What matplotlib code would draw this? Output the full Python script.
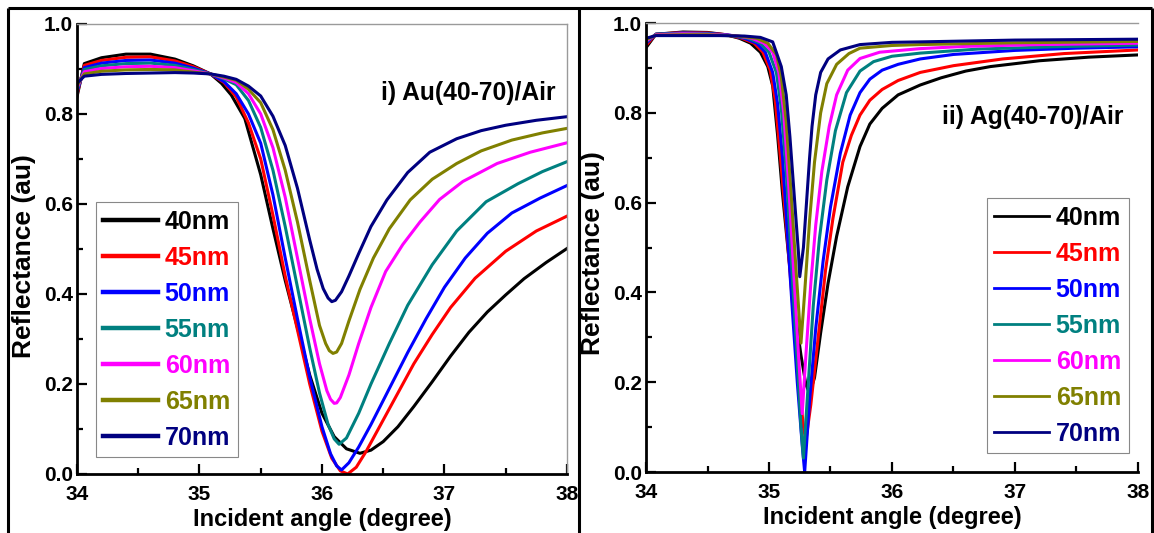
import matplotlib
matplotlib.use("Agg")
import matplotlib.pyplot as plt
from matplotlib.lines import Line2D
from matplotlib.ticker import MultipleLocator

plt.rcParams['font.family'] = ['Liberation Sans', 'DejaVu Sans']
plt.rcParams['font.weight'] = 'bold'

thickness = ['40nm', '45nm', '50nm', '55nm', '60nm', '65nm', '70nm']
line_colors = ['black', 'red', 'blue', '#008080', 'magenta', '#808000', '#000080']

# ---- Au film, reflectance vs incident angle ----
au_x_40 = [34.0, 34.06, 34.2, 34.4, 34.6, 34.8, 34.95, 35.09, 35.18, 35.26, 35.37, 35.5, 35.6, 35.7,
           35.8, 35.9, 36.0, 36.1, 36.2, 36.31, 36.4, 36.5, 36.62, 36.75, 36.9, 37.05, 37.2, 37.35,
           37.5, 37.65, 37.83, 38.0]
au_r_40 = [0.838, 0.912, 0.925, 0.933, 0.933, 0.922, 0.907, 0.889, 0.868, 0.842, 0.790, 0.665, 0.545, 0.430,
           0.325, 0.220, 0.135, 0.083, 0.056, 0.046, 0.053, 0.072, 0.105, 0.150, 0.205, 0.262, 0.315, 0.360,
           0.398, 0.434, 0.470, 0.501]

au_x_45 = [34.0, 34.06, 34.2, 34.4, 34.6, 34.8, 34.95, 35.09, 35.2, 35.3, 35.4, 35.5, 35.6, 35.7, 35.8,
           35.9, 36.0, 36.08, 36.15, 36.21, 36.28, 36.36, 36.45, 36.6, 36.75, 36.9, 37.05, 37.25, 37.5,
           37.75, 38.0]
au_r_45 = [0.843, 0.908, 0.919, 0.926, 0.927, 0.918, 0.905, 0.889, 0.870, 0.838, 0.780, 0.700, 0.575, 0.440,
           0.320, 0.200, 0.095, 0.035, 0.007, 0.0, 0.015, 0.050, 0.095, 0.170, 0.245, 0.310, 0.370, 0.435,
           0.495, 0.540, 0.573]

au_x_50 = [34.0, 34.06, 34.2, 34.4, 34.6, 34.8, 34.95, 35.09, 35.2, 35.3, 35.4, 35.5, 35.6, 35.7, 35.8,
           35.9, 36.0, 36.07, 36.12, 36.16, 36.22, 36.3, 36.4, 36.55, 36.7, 36.85, 37.0, 37.17, 37.35,
           37.55, 37.78, 38.0]
au_r_50 = [0.848, 0.903, 0.913, 0.919, 0.920, 0.913, 0.902, 0.889, 0.872, 0.845, 0.800, 0.735, 0.620, 0.480,
           0.345, 0.215, 0.105, 0.045, 0.018, 0.009, 0.025, 0.060, 0.110, 0.190, 0.270, 0.345, 0.415, 0.480,
           0.535, 0.580, 0.613, 0.641]

au_x_55 = [34.0, 34.06, 34.2, 34.4, 34.6, 34.8, 34.95, 35.09, 35.2, 35.3, 35.4, 35.5, 35.6, 35.7, 35.8,
           35.9, 35.98, 36.05, 36.1, 36.14, 36.2, 36.3, 36.4, 36.55, 36.7, 36.9, 37.1, 37.34, 37.6, 37.8, 38.0]
au_r_55 = [0.853, 0.899, 0.907, 0.912, 0.913, 0.908, 0.899, 0.889, 0.878, 0.865, 0.830, 0.770, 0.675, 0.550,
           0.415, 0.280, 0.180, 0.110, 0.078, 0.066, 0.080, 0.135, 0.200, 0.290, 0.375, 0.465, 0.540, 0.605,
           0.645, 0.672, 0.694]

au_x_60 = [34.0, 34.06, 34.2, 34.4, 34.6, 34.8, 34.95, 35.09, 35.2, 35.3, 35.4, 35.5, 35.6, 35.7, 35.8,
           35.9, 35.98, 36.04, 36.07, 36.1, 36.12, 36.15, 36.22, 36.3, 36.4, 36.52, 36.66, 36.8, 36.96,
           37.15, 37.43, 37.7, 38.0]
au_r_60 = [0.858, 0.894, 0.901, 0.905, 0.906, 0.903, 0.896, 0.889, 0.880, 0.870, 0.845, 0.800, 0.725, 0.615,
           0.480, 0.345, 0.245, 0.185, 0.166, 0.157, 0.158, 0.170, 0.220, 0.290, 0.370, 0.450, 0.510, 0.560,
           0.610, 0.650, 0.690, 0.715, 0.736]

au_x_65 = [34.0, 34.06, 34.2, 34.4, 34.6, 34.8, 34.95, 35.09, 35.2, 35.3, 35.4, 35.5, 35.6, 35.7, 35.8,
           35.9, 35.98, 36.03, 36.06, 36.09, 36.12, 36.16, 36.22, 36.31, 36.42, 36.55, 36.72, 36.9, 37.1,
           37.3, 37.55, 37.8, 38.0]
au_r_65 = [0.863, 0.889, 0.895, 0.898, 0.899, 0.898, 0.893, 0.889, 0.882, 0.875, 0.855, 0.825, 0.765, 0.675,
           0.560, 0.430, 0.330, 0.290, 0.274, 0.268, 0.271, 0.290, 0.340, 0.410, 0.480, 0.545, 0.609, 0.655,
           0.690, 0.718, 0.742, 0.758, 0.768]

au_x_70 = [34.0, 34.06, 34.2, 34.4, 34.6, 34.8, 34.95, 35.09, 35.2, 35.3, 35.4, 35.5, 35.6, 35.7, 35.8,
           35.9, 35.96, 36.01, 36.05, 36.08, 36.11, 36.16, 36.22, 36.3, 36.4, 36.53, 36.7, 36.88, 37.1,
           37.3, 37.5, 37.75, 38.0]
au_r_70 = [0.868, 0.884, 0.888, 0.890, 0.891, 0.892, 0.891, 0.889, 0.884, 0.877, 0.862, 0.840, 0.795, 0.730,
           0.635, 0.520, 0.455, 0.412, 0.391, 0.383, 0.386, 0.405, 0.440, 0.490, 0.550, 0.609, 0.670, 0.715,
           0.745, 0.763, 0.775, 0.786, 0.794]

# ---- Ag film ----
ag_x_40 = [34.0, 34.08, 34.3, 34.5, 34.65, 34.76, 34.85, 34.93, 34.99, 35.03, 35.07, 35.11, 35.16, 35.21,
           35.26, 35.3, 35.33, 35.37, 35.42, 35.48, 35.55, 35.64, 35.74, 35.82, 35.92, 36.05, 36.23, 36.4,
           36.6, 36.8, 37.2, 37.6, 38.0]
ag_r_40 = [0.945, 0.975, 0.980, 0.979, 0.974, 0.966, 0.955, 0.935, 0.903, 0.860, 0.750, 0.620, 0.480, 0.360,
           0.260, 0.195, 0.175, 0.210, 0.310, 0.420, 0.525, 0.635, 0.725, 0.775, 0.810, 0.840, 0.862, 0.878,
           0.893, 0.903, 0.916, 0.924, 0.929]

ag_x_45 = [34.0, 34.08, 34.3, 34.5, 34.65, 34.78, 34.88, 34.95, 35.01, 35.05, 35.09, 35.14, 35.19, 35.24,
           35.28, 35.3, 35.34, 35.4, 35.46, 35.52, 35.6, 35.67, 35.74, 35.82, 35.92, 36.05, 36.23, 36.5,
           36.9, 37.4, 38.0]
ag_r_45 = [0.950, 0.975, 0.979, 0.978, 0.974, 0.966, 0.955, 0.935, 0.895, 0.830, 0.710, 0.550, 0.380, 0.210,
           0.100, 0.070, 0.150, 0.300, 0.450, 0.565, 0.690, 0.750, 0.795, 0.828, 0.852, 0.872, 0.890, 0.905,
           0.920, 0.932, 0.940]

ag_x_50 = [34.0, 34.08, 34.3, 34.5, 34.68, 34.8, 34.9, 34.97, 35.03, 35.07, 35.11, 35.15, 35.19, 35.23,
           35.27, 35.29, 35.33, 35.38, 35.44, 35.5, 35.58, 35.66, 35.74, 35.82, 35.92, 36.05, 36.23, 36.5,
           37.0, 37.5, 38.0]
ag_r_50 = [0.955, 0.975, 0.978, 0.977, 0.973, 0.966, 0.955, 0.935, 0.890, 0.820, 0.700, 0.530, 0.360, 0.200,
           0.060, 0.0, 0.160, 0.320, 0.470, 0.590, 0.710, 0.795, 0.845, 0.875, 0.895, 0.908, 0.920, 0.930,
           0.939, 0.944, 0.947]

ag_x_55 = [34.0, 34.08, 34.3, 34.5, 34.7, 34.83, 34.93, 35.0, 35.06, 35.1, 35.14, 35.18, 35.22, 35.26,
           35.28, 35.32, 35.36, 35.41, 35.47, 35.54, 35.63, 35.74, 35.85, 36.0, 36.23, 36.7, 37.3, 38.0]
ag_r_55 = [0.958, 0.975, 0.977, 0.976, 0.972, 0.966, 0.955, 0.935, 0.890, 0.810, 0.670, 0.480, 0.290, 0.100,
           0.031, 0.200, 0.370, 0.520, 0.650, 0.760, 0.845, 0.893, 0.914, 0.926, 0.933, 0.942, 0.947, 0.951]

ag_x_60 = [34.0, 34.08, 34.3, 34.5, 34.72, 34.86, 34.96, 35.03, 35.08, 35.12, 35.16, 35.2, 35.24, 35.27,
           35.3, 35.34, 35.38, 35.43, 35.49, 35.55, 35.64, 35.74, 35.9, 36.23, 36.6, 37.2, 38.0]
ag_r_60 = [0.960, 0.974, 0.976, 0.975, 0.972, 0.966, 0.955, 0.935, 0.890, 0.800, 0.640, 0.450, 0.260, 0.130,
           0.260, 0.420, 0.550, 0.670, 0.770, 0.840, 0.895, 0.921, 0.935, 0.943, 0.948, 0.952, 0.955]

ag_x_65 = [34.0, 34.08, 34.3, 34.5, 34.75, 34.9, 34.99, 35.06, 35.1, 35.14, 35.18, 35.22, 35.26, 35.29,
           35.33, 35.37, 35.42, 35.47, 35.55, 35.65, 35.74, 36.0, 36.23, 37.0, 38.0]
ag_r_65 = [0.963, 0.973, 0.974, 0.974, 0.971, 0.966, 0.955, 0.930, 0.880, 0.780, 0.620, 0.450, 0.287, 0.400,
           0.560, 0.690, 0.800, 0.865, 0.908, 0.932, 0.944, 0.950, 0.952, 0.956, 0.959]

ag_x_70 = [34.0, 34.08, 34.3, 34.6, 34.8, 34.93, 35.03, 35.1, 35.14, 35.17, 35.21, 35.24, 35.25, 35.28,
           35.31, 35.33, 35.35, 35.38, 35.42, 35.48, 35.58, 35.74, 36.0, 36.23, 37.0, 38.0]
ag_r_70 = [0.966, 0.972, 0.972, 0.972, 0.971, 0.968, 0.958, 0.903, 0.840, 0.747, 0.598, 0.487, 0.435, 0.500,
           0.620, 0.700, 0.770, 0.840, 0.890, 0.920, 0.940, 0.952, 0.957, 0.958, 0.962, 0.964]

au_curves = [(au_x_40, au_r_40), (au_x_45, au_r_45), (au_x_50, au_r_50), (au_x_55, au_r_55),
             (au_x_60, au_r_60), (au_x_65, au_r_65), (au_x_70, au_r_70)]
ag_curves = [(ag_x_40, ag_r_40), (ag_x_45, ag_r_45), (ag_x_50, ag_r_50), (ag_x_55, ag_r_55),
             (ag_x_60, ag_r_60), (ag_x_65, ag_r_65), (ag_x_70, ag_r_70)]


def style_axes(ax, show_right=True):
    ax.set_xlim(34, 38)
    ax.set_ylim(0, 1.0)
    ax.xaxis.set_major_locator(MultipleLocator(1))
    ax.xaxis.set_minor_locator(MultipleLocator(0.5))
    ax.yaxis.set_major_locator(MultipleLocator(0.2))
    ax.yaxis.set_minor_locator(MultipleLocator(0.1))
    ax.tick_params(which='both', direction='in', top=False, right=False, width=1.6,
                   labelsize=15, pad=3)
    ax.tick_params(axis='x', which='both', pad=8)
    ax.tick_params(which='major', length=7)
    ax.tick_params(which='minor', length=4)
    for side in ('left', 'bottom'):
        ax.spines[side].set_linewidth(2.0)
        ax.spines[side].set_color('black')
    ax.spines['top'].set_color('#9a9a9a')
    ax.spines['top'].set_linewidth(1.0)
    ax.spines['right'].set_color('#9a9a9a')
    ax.spines['right'].set_linewidth(1.0)
    ax.spines['right'].set_visible(show_right)
    ax.set_xlabel('Incident angle (degree)', fontsize=17, fontweight='bold', labelpad=3)
    ax.set_ylabel('Reflectance (au)', fontsize=19, fontweight='bold')
    ax.set_yticks([0.0, 0.2, 0.4, 0.6, 0.8, 1.0])
    ax.set_yticklabels(['0.0', '0.2', '0.4', '0.6', '0.8', '1.0'])


fig = plt.figure(figsize=(11.54, 5.33), dpi=100)
ax1 = fig.add_axes([0.0667, 0.1107, 0.4246, 0.8443])
ax2 = fig.add_axes([0.5598, 0.1144, 0.4263, 0.8424])

for (x, r), lab, c in zip(au_curves, thickness, line_colors):
    ax1.plot(x, r, color=c, lw=2.2, label=lab, solid_joinstyle='round')
for (x, r), lab, c in zip(ag_curves, thickness, line_colors):
    ax2.plot(x, r, color=c, lw=2.2, label=lab, solid_joinstyle='round')

style_axes(ax1, show_right=True)
style_axes(ax2, show_right=False)
ax1.yaxis.set_label_coords(-0.083, 0.484)
ax2.yaxis.set_label_coords(-0.083, 0.487)

legend_kw = dict(loc='upper left', borderaxespad=0, labelcolor='linecolor', handlelength=2.2,
                 handletextpad=0.25, labelspacing=0.48, borderpad=0.3, fancybox=False,
                 framealpha=1, edgecolor='#888888', prop={'weight': 'bold', 'size': 18})
leg1 = ax1.legend(bbox_to_anchor=(0.0388, 0.604), **legend_kw)
for h in leg1.get_lines():
    h.set_linewidth(3.2)
leg1.get_frame().set_linewidth(0.8)

leg2 = ax2.legend(bbox_to_anchor=(0.693, 0.610), **legend_kw)
for h in leg2.get_lines():
    h.set_linewidth(2.0)
leg2.get_frame().set_linewidth(0.8)

ax1.text(0.977, 0.847, 'i) Au(40-70)/Air', transform=ax1.transAxes, ha='right', va='center',
         fontsize=17.7, fontweight='bold')
ax2.text(0.9695, 0.79, 'ii) Ag(40-70)/Air', transform=ax2.transAxes, ha='right', va='center',
         fontsize=17.7, fontweight='bold')

# panel frames
frame_kw = dict(color='black', lw=2.2, transform=fig.transFigure, solid_capstyle='butt')
fig.add_artist(Line2D([0.0069, 0.9983], [0.985, 0.985], **frame_kw))
fig.add_artist(Line2D([0.0069, 0.0069], [0.0, 0.985], **frame_kw))
fig.add_artist(Line2D([0.5017, 0.5017], [0.0, 0.985], **frame_kw))
fig.add_artist(Line2D([0.9983, 0.9983], [0.0, 0.985], **frame_kw))

fig.savefig('out.png', dpi=100)
